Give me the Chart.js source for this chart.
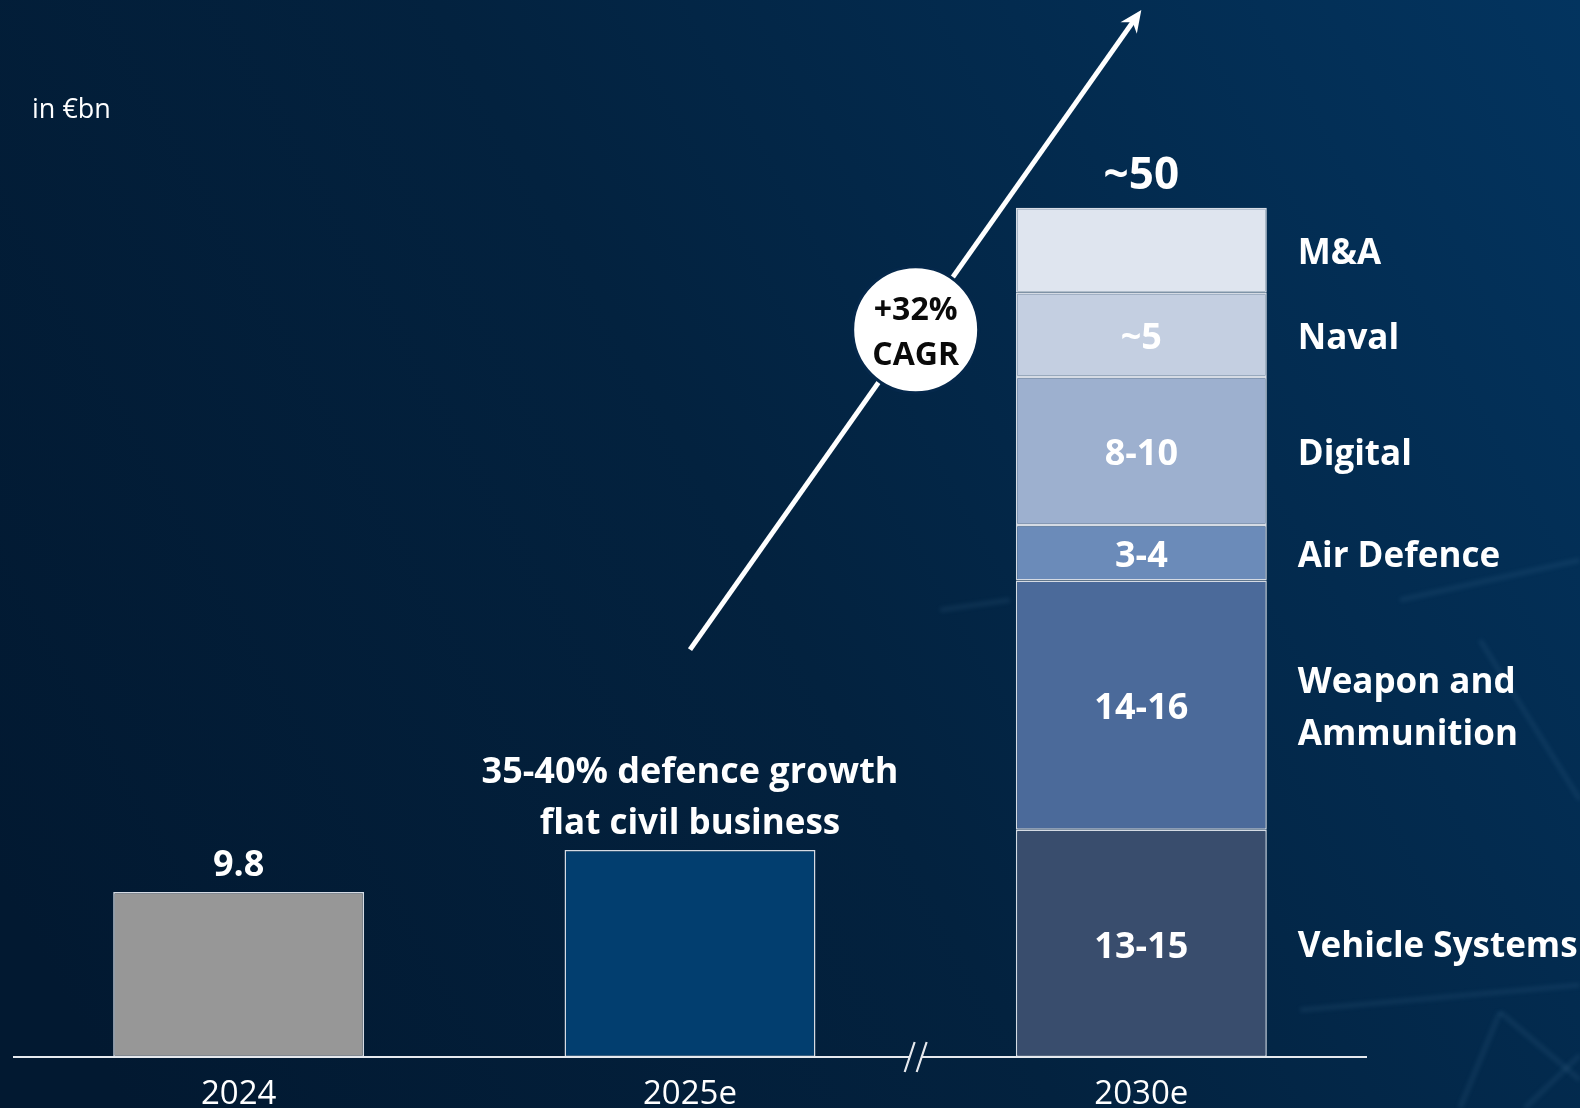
<!DOCTYPE html>
<html><head><meta charset="utf-8">
<script src="https://cdn.jsdelivr.net/npm/chart.js@4/dist/chart.umd.min.js"></script>
<style>html,body{margin:0;padding:0;background:#031f3c;overflow:hidden}canvas{display:block}</style>
</head><body>
<canvas id="c" width="1580" height="1108"></canvas>
<script>
// ---- data ----
const categories = ['2024', '2025e', '2030e'];
const values2024 = [9.8, null, null];
const values2025 = [null, 12.3, null];
const segmentNames = [['Vehicle Systems'], ['Weapon and', 'Ammunition'], ['Air Defence'], ['Digital'], ['Naval'], ['M&A']];
const segmentValues = [13.5, 14.8, 3.3, 8.8, 5.0, 5.05];
const segmentLabels = ['13-15', '14-16', '3-4', '8-10', '~5', ''];
const totalLabels = ['9.8', '', '~50'];
const growthNote = ['35-40% defence growth', 'flat civil business'];
const cagrText = ['+32%', 'CAGR'];
const unitLabel = 'in €bn';
const arrowFromValue = 24.2;
const arrowToValue = 62.2;

// ---- styles ----
const FONT = '"Open Sans", "DejaVu Sans", sans-serif';
const segColors = ['#394d6d', '#4b6a9a', '#6b8bb9', '#9db0cf', '#c4cfe1', '#dfe5ef'];
const barCommon = { borderColor: '#d5dbe4', borderWidth: 1.5, borderSkipped: false, barPercentage: 0.556, categoryPercentage: 1 };

const datasets = [
  Object.assign({ label: '2024', data: values2024, backgroundColor: '#979797' }, barCommon),
  Object.assign({ label: '2025e', data: values2025, backgroundColor: '#023e6f' }, barCommon),
  ...segmentNames.map((n, i) => Object.assign({
    label: n.join(' '),
    data: [null, null, segmentValues[i]],
    backgroundColor: segColors[i]
  }, barCommon))
];

const bgPlugin = {
  id: 'bg',
  beforeDraw(chart) {
    const { ctx, width, height } = chart;
    ctx.save();
    const g = ctx.createLinearGradient(0, height * 0.8, width, 0);
    g.addColorStop(0, '#021931');
    g.addColorStop(0.45, '#03223f');
    g.addColorStop(1, '#03345f');
    ctx.fillStyle = g;
    ctx.fillRect(0, 0, width, height);
    // faint network lines, bottom right
    ctx.strokeStyle = 'rgba(120,165,210,0.10)';
    ctx.lineWidth = 5;
    ctx.filter = 'blur(2px)';
    const segs = [
      [1300, 1010, 1580, 985], [1500, 1012, 1460, 1108], [1500, 1012, 1580, 1080],
      [1580, 1055, 1525, 1108], [1480, 640, 1580, 800], [1400, 600, 1580, 560],
      [940, 610, 1010, 600]
    ];
    segs.forEach(s => { ctx.beginPath(); ctx.moveTo(s[0], s[1]); ctx.lineTo(s[2], s[3]); ctx.stroke(); });
    ctx.filter = 'none';
    ctx.restore();
  }
};

function txt(ctx, s, x, y, font, color, align) {
  ctx.font = font;
  ctx.fillStyle = color;
  ctx.textAlign = align || 'center';
  ctx.textBaseline = 'middle';
  ctx.fillText(s, x, y);
}

const labelPlugin = {
  id: 'labels',
  afterDatasetsDraw(chart) {
    const { ctx, chartArea, scales } = chart;
    const xS = scales.x, yS = scales.y;
    ctx.save();
    // axis line with break
    const base = yS.getPixelForValue(0);
    const brk = xS.getPixelForValue(1.5);
    ctx.strokeStyle = '#e6e9ee';
    ctx.lineWidth = 2.2;
    ctx.beginPath();
    ctx.moveTo(chartArea.left, base); ctx.lineTo(brk - 6, base);
    ctx.moveTo(brk + 6, base); ctx.lineTo(chartArea.right, base);
    ctx.stroke();
    [-6, 6].forEach(dx => {
      ctx.beginPath();
      ctx.moveTo(brk + dx - 5, base + 15);
      ctx.lineTo(brk + dx + 5, base - 15);
      ctx.stroke();
    });

    const dy = 4;
    // 2024 total
    const el0 = chart.getDatasetMeta(0).data[0];
    txt(ctx, totalLabels[0], el0.x, el0.y - 30 + dy, 'bold 36px ' + FONT, '#ffffff');
    // 2025e note
    const el1 = chart.getDatasetMeta(1).data[1];
    txt(ctx, growthNote[0], el1.x, el1.y - 81 + dy, 'bold 36px ' + FONT, '#ffffff');
    txt(ctx, growthNote[1], el1.x, el1.y - 30 + dy, 'bold 35px ' + FONT, '#ffffff');
    // 2030e segments
    segmentNames.forEach((n, i) => {
      const el = chart.getDatasetMeta(2 + i).data[2];
      const cy = (el.y + el.base) / 2 + dy;
      if (segmentLabels[i]) txt(ctx, segmentLabels[i], el.x, cy, 'bold 36px ' + FONT, '#ffffff');
      const lh = 52;
      n.forEach((line, k) => {
        txt(ctx, line, el.x + el.width / 2 + 31, cy + (k - (n.length - 1) / 2) * lh, 'bold 35px ' + FONT, '#ffffff', 'left');
      });
    });
    const top = chart.getDatasetMeta(2 + segmentNames.length - 1).data[2];
    txt(ctx, totalLabels[2], top.x, top.y - 35 + dy, 'bold 44px ' + FONT, '#ffffff');

    // unit label
    txt(ctx, unitLabel, chartArea.left + 19, 110, '27px ' + FONT, '#ffffff', 'left');
    ctx.restore();
  },
  afterDraw(chart) {
    const { ctx, scales } = chart;
    const xS = scales.x, yS = scales.y;
    const x1 = xS.getPixelForValue(1), y1 = yS.getPixelForValue(arrowFromValue);
    const x2 = xS.getPixelForValue(2), y2 = yS.getPixelForValue(arrowToValue);
    const dx = x2 - x1, dy = y2 - y1, L = Math.hypot(dx, dy);
    const ux = dx / L, uy = dy / L, px = -uy, py = ux;
    ctx.save();
    ctx.strokeStyle = '#ffffff';
    ctx.fillStyle = '#ffffff';
    ctx.lineWidth = 5;
    ctx.beginPath();
    ctx.moveTo(x1, y1);
    ctx.lineTo(x2 - ux * 14, y2 - uy * 14);
    ctx.stroke();
    ctx.beginPath();
    ctx.moveTo(x2, y2);
    ctx.lineTo(x2 - ux * 22 + px * 10, y2 - uy * 22 + py * 10);
    ctx.lineTo(x2 - ux * 15, y2 - uy * 15);
    ctx.lineTo(x2 - ux * 22 - px * 10, y2 - uy * 22 - py * 10);
    ctx.closePath();
    ctx.fill();
    // CAGR circle
    const cx = (x1 + x2) / 2, cy = (y1 + y2) / 2;
    ctx.beginPath();
    ctx.arc(cx, cy, 63, 0, Math.PI * 2);
    ctx.fillStyle = '#ffffff';
    ctx.fill();
    ctx.lineWidth = 3;
    ctx.strokeStyle = '#05284b';
    ctx.stroke();
    txt(ctx, cagrText[0], cx, cy - 19, 'bold 32px ' + FONT, '#0a0a0a');
    txt(ctx, cagrText[1], cx, cy + 26, 'bold 32px ' + FONT, '#0a0a0a');
    ctx.restore();
  }
};

new Chart(document.getElementById('c'), {
  type: 'bar',
  data: { labels: categories, datasets },
  options: {
    responsive: false,
    animation: false,
    events: [],
    layout: { padding: { left: 13, right: 213, top: 47, bottom: 0 } },
    plugins: { legend: { display: false }, tooltip: { enabled: false }, title: { display: false } },
    scales: {
      x: {
        stacked: true,
        grid: { display: false, drawTicks: false },
        border: { display: false },
        ticks: { color: '#ffffff', font: { family: FONT, size: 33 }, padding: 18, maxRotation: 0 },
        afterFit(s) { s.height = 51; }
      },
      y: {
        stacked: true,
        display: false,
        min: 0,
        max: 60
      }
    }
  },
  plugins: [bgPlugin, labelPlugin]
});
</script>
</body></html>
